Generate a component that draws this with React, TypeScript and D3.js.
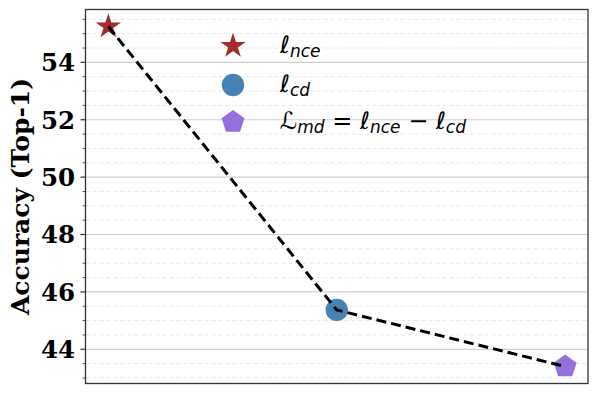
import * as d3 from "d3";
import { useRef, useEffect } from "react";

// one point per loss variant
const methods = ["nce", "cd", "md"];
const accuracy = [55.25, 45.37, 43.4];
const colors = ["#a52a2a", "#4682b4", "#9370db"];
const shapes = ["star", "circle", "pentagon"];
const yTicks = [44, 46, 48, 50, 52, 54];

const W = 598;
const H = 400;
const m = { left: 85.5, top: 9.5, right: 10, bottom: 16.5 };

const App = () => {
  const svgRef = useRef<SVGSVGElement>(null);

  useEffect(() => {
    const svg = d3.select(svgRef.current);
    svg.selectAll("*").remove();

    const pw = W - m.left - m.right;
    const ph = H - m.top - m.bottom;

    // matplotlib-ish 5% margins
    const lo = d3.min(accuracy)!;
    const hi = d3.max(accuracy)!;
    const pad = (hi - lo) * 0.05;
    const y = d3.scaleLinear().domain([lo - pad, hi + pad]).range([m.top + ph, m.top]);
    const xi = d3.range(methods.length);
    const x = d3
      .scaleLinear()
      .domain([-0.05 * (methods.length - 1), (methods.length - 1) * 1.05])
      .range([m.left, m.left + pw]);

    const g = svg.append("g");

    // minor grid every 0.5
    const minor = d3.range(Math.ceil(y.domain()[0] * 2) / 2, y.domain()[1], 0.5).filter((v) => v % 2 !== 0);
    g.selectAll(".minor")
      .data(minor)
      .join("line")
      .attr("x1", m.left)
      .attr("x2", m.left + pw)
      .attr("y1", (d) => y(d))
      .attr("y2", (d) => y(d))
      .attr("stroke", "#e4e4e4")
      .attr("stroke-width", 0.9)
      .attr("stroke-dasharray", "4,3");
    g.selectAll(".minortick")
      .data(minor)
      .join("line")
      .attr("x1", m.left - 3)
      .attr("x2", m.left)
      .attr("y1", (d) => y(d))
      .attr("y2", (d) => y(d))
      .attr("stroke", "#333")
      .attr("stroke-width", 0.8);

    // major grid
    g.selectAll(".major")
      .data(yTicks)
      .join("line")
      .attr("x1", m.left)
      .attr("x2", m.left + pw)
      .attr("y1", (d) => y(d))
      .attr("y2", (d) => y(d))
      .attr("stroke", "#d0d0d0")
      .attr("stroke-width", 1.2);
    g.selectAll(".majortick")
      .data(yTicks)
      .join("line")
      .attr("x1", m.left - 5)
      .attr("x2", m.left)
      .attr("y1", (d) => y(d))
      .attr("y2", (d) => y(d))
      .attr("stroke", "#333")
      .attr("stroke-width", 1.2);
    g.selectAll(".ticklabel")
      .data(yTicks)
      .join("text")
      .attr("x", 75)
      .attr("y", (d) => y(d))
      .attr("dy", "0.36em")
      .attr("text-anchor", "end")
      .attr("font-family", "DejaVu Serif")
      .attr("font-weight", "bold")
      .attr("font-size", 24.5)
      .text((d) => d);

    // markers first, dashed line on top
    const symbolType: Record<string, d3.SymbolType> = {
      star: d3.symbolStar,
      circle: d3.symbolCircle,
    };
    const pentagon = (r: number) =>
      d3.range(5).map((i) => {
        const a = -Math.PI / 2 + (i * 2 * Math.PI) / 5;
        return [r * Math.cos(a), r * Math.sin(a)].join(",");
      }).join(" ");
    const drawMarker = (sel: d3.Selection<SVGGElement, unknown, null, undefined>, shape: string, color: string) => {
      if (shape === "pentagon") {
        sel.append("polygon").attr("points", pentagon(12)).attr("fill", color);
      } else {
        sel
          .append("path")
          .attr("d", d3.symbol(symbolType[shape], shape === "star" ? 200 : 390)()!)
          .attr("fill", color);
      }
    };

    xi.forEach((i) => {
      const mk = g.append("g").attr("transform", `translate(${x(i)},${y(accuracy[i])})`);
      drawMarker(mk as any, shapes[i], colors[i]);
    });

    g.append("path")
      .datum(xi)
      .attr(
        "d",
        d3
          .line<number>()
          .x((i) => x(i))
          .y((i) => y(accuracy[i]))
      )
      .attr("fill", "none")
      .attr("stroke", "#000")
      .attr("stroke-width", 3)
      .attr("stroke-dasharray", "10,5");

    // frame
    g.append("rect")
      .attr("x", m.left)
      .attr("y", m.top)
      .attr("width", pw)
      .attr("height", ph)
      .attr("fill", "none")
      .attr("stroke", "#333")
      .attr("stroke-width", 1.3);

    // y label
    svg
      .append("text")
      .attr("transform", `translate(29,${m.top + ph / 2}) rotate(-90)`)
      .attr("text-anchor", "middle")
      .attr("font-family", "DejaVu Serif")
      .attr("font-weight", "bold")
      .attr("font-size", 25)
      .text("Accuracy (Top-1)");

    // legend
    const legendRows: [string, string][][] = [
      [["ℓ", ""], ["nce", "sub"]],
      [["ℓ", ""], ["cd", "sub"]],
      [["ℒ", ""], ["md", "sub"], [" = ℓ", ""], ["nce", "sub"], [" − ℓ", ""], ["cd", "sub"]],
    ] as any;
    const rowY = [46, 85, 122];
    const leg = svg.append("g");
    xi.forEach((i) => {
      const mk = leg.append("g").attr("transform", `translate(233,${rowY[i]})`);
      drawMarker(mk as any, shapes[i], colors[i]);
      const t = leg
        .append("text")
        .attr("x", 280)
        .attr("y", rowY[i] + 7)
        .attr("font-family", "DejaVu Sans")
        .attr("font-style", "italic")
        .attr("font-size", 24);
      legendRows[i].forEach(([s, kind], k) => {
        const prev = k > 0 ? legendRows[i][k - 1][1] : "";
        t.append("tspan")
          .attr("font-size", kind === "sub" ? 17 : 24)
          .attr("dy", kind === "sub" ? 4 : prev === "sub" ? -4 : 0)
          .text(s);
      });
    });
  }, []);

  return (
    <div style={{ position: "absolute", left: 0, top: 0 }}>
      <svg ref={svgRef} width={W} height={H} style={{ display: "block", background: "#fff" }} />
    </div>
  );
};

export default App;
